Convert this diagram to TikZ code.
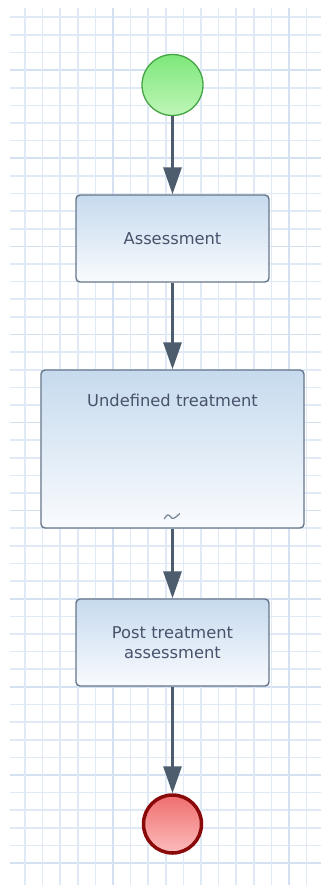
\documentclass[tikz,border=0pt]{standalone}
\usepackage{fontspec}
\setmainfont{DejaVu Sans}
\usetikzlibrary{arrows.meta,calc}

\definecolor{gridminor}{HTML}{E0EAF6}
\definecolor{gridmajor}{HTML}{D3E1F2}
\definecolor{flowcol}{HTML}{4E5D6D}
\definecolor{taskborder}{HTML}{66768A}
\definecolor{tasktop}{HTML}{C6DAEE}
\definecolor{taskbottom}{HTML}{F9FBFE}
\definecolor{tasktext}{HTML}{48526B}
\definecolor{startborder}{HTML}{45A545}
\definecolor{starttop}{HTML}{7DE77A}
\definecolor{startbottom}{HTML}{BFF6B8}
\definecolor{endborder}{HTML}{8A0A0A}
\definecolor{endtop}{HTML}{EF6E6E}
\definecolor{endbottom}{HTML}{FCBCBC}
\definecolor{markcol}{HTML}{7A8898}

\tikzset{
  gridthin/.style={draw=gridminor, line width=1.6pt},
  gridthick/.style={draw=gridmajor, line width=1.6pt},
  taskbox/.style={rectangle, rounded corners=4pt, draw=taskborder, line width=1.4pt,
    top color=tasktop, bottom color=taskbottom, minimum width=193pt,
    text=tasktext, align=center, inner sep=0pt,
    font=\fontsize{16.3}{20}\selectfont},
  startevent/.style={circle, draw=startborder, line width=1.3pt,
    top color=starttop, bottom color=startbottom, minimum size=61pt, inner sep=0pt},
  endevent/.style={circle, draw=endborder, line width=3.5pt,
    top color=endtop, bottom color=endbottom, minimum size=58pt, inner sep=0pt},
  flow/.style={draw=flowcol, line width=3pt,
    -{Triangle[length=27pt,width=18pt]}},
  labeltext/.style={text=tasktext, font=\fontsize{16.3}{20}\selectfont, inner sep=0pt}
}

\begin{document}
\begin{tikzpicture}[x=1pt,y=-1pt]
  % page and canvas
  \useasboundingbox (0,0) rectangle (321,885);
  \fill[white] (0,0) rectangle (321,885);

  % background grid
  \foreach \k in {0,...,48} {
    \pgfmathtruncatemacro{\m}{mod(\k+2,5)}
    \ifnum\m=0
      \draw[gridthick] (10,{17.3+17.62*\k}) -- (321,{17.3+17.62*\k});
    \else
      \draw[gridthin] (10,{17.3+17.62*\k}) -- (321,{17.3+17.62*\k});
    \fi
  }
  \foreach \k in {0,...,16} {
    \pgfmathtruncatemacro{\m}{mod(\k+5,10)}
    \ifnum\m=0
      \draw[gridthick] ({25+17.6*\k},8) -- ({25+17.6*\k},885);
    \else
      \draw[gridthin] ({25+17.6*\k},8) -- ({25+17.6*\k},885);
    \fi
  }

  % events and tasks
  \node[startevent] (start) at (172.5,85) {};
  \node[taskbox, minimum height=87pt] (assess) at (172.5,238.5) {Assessment};
  \node[taskbox, minimum width=263pt, minimum height=158pt] (undef) at (172.5,449) {};
  \node[labeltext] (undeflabel) at (172.5,400) {Undefined treatment};
  \node[taskbox, minimum height=87pt] (post) at (172.5,642.5) {Post treatment\\assessment};
  \node[endevent] (end) at (172.5,824) {};

  % ad-hoc marker at the bottom of the sub-process
  \begin{scope}[shift={(undef.south)}]
    \draw[markcol, line width=1.3pt, line cap=round]
      (-8,-10) .. controls (-6,-14) and (-4,-15) .. (-2,-12)
               .. controls (0,-9) and (2,-10) .. (7,-15);
  \end{scope}

  % sequence flows
  \draw[flow] (start) -- (assess);
  \draw[flow] (assess) -- (undef);
  \draw[flow] (undef) -- (post);
  \draw[flow] (post) -- (end);
\end{tikzpicture}
\end{document}
